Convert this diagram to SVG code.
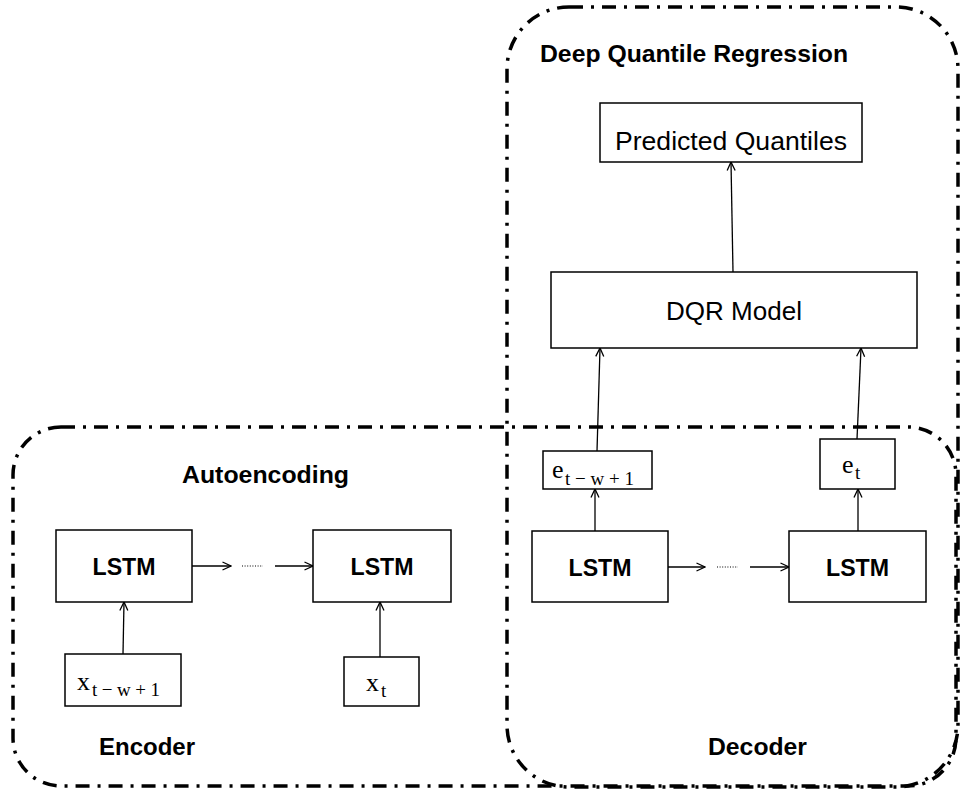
<svg xmlns="http://www.w3.org/2000/svg" width="964" height="793" viewBox="0 0 964 793">
  <defs>
    <marker id="open-arrow" viewBox="0 0 10 10" refX="9.5" refY="5" markerWidth="10" markerHeight="10" markerUnits="userSpaceOnUse" orient="auto">
      <path d="M1,1 L9.5,5 L1,9" fill="none" stroke="#000" stroke-width="1.3"/>
    </marker>
    <style>
      .region { fill: none; stroke: #000; stroke-width: 3.5; stroke-dasharray: 14 8 3 8; }
      .box { fill: #fff; stroke: #000; stroke-width: 1.5; }
      .edge { fill: none; stroke: #000; stroke-width: 1.3; marker-end: url(#open-arrow); }
      .dots { fill: none; stroke: #000; stroke-width: 1.2; stroke-dasharray: 1 1.6; }
      .title { font-family: "Liberation Sans", Arial, sans-serif; font-weight: bold; font-size: 24px; fill: #000; }
      .lstm { font-family: "Liberation Sans", Arial, sans-serif; font-weight: bold; font-size: 24px; fill: #000; text-anchor: middle; }
      .label { font-family: "Liberation Sans", Arial, sans-serif; font-size: 26px; fill: #000; text-anchor: middle; }
      .math { font-family: "Liberation Serif", "Times New Roman", serif; font-size: 26px; fill: #000; }
      .sub { font-family: "Liberation Serif", "Times New Roman", serif; font-size: 19px; fill: #000; }
    </style>
  </defs>

  <!-- Region outlines -->
  <g id="region-dqr">
    <rect class="region" x="507" y="7" width="451" height="780" rx="62" ry="62"/>
    <text class="title" x="540" y="62" textLength="308" lengthAdjust="spacingAndGlyphs">Deep Quantile Regression</text>
  </g>
  <g id="region-autoencoding">
    <rect class="region" x="13" y="427" width="943" height="359" rx="48" ry="48"/>
    <text class="title" x="182" y="483" textLength="167" lengthAdjust="spacingAndGlyphs">Autoencoding</text>
    <text class="title" x="99" y="755" textLength="96" lengthAdjust="spacingAndGlyphs">Encoder</text>
    <text class="title" x="708" y="755" textLength="99" lengthAdjust="spacingAndGlyphs">Decoder</text>
  </g>

  <!-- Connectors -->
  <g id="connectors">
    <!-- encoder -->
    <line class="edge" x1="123" y1="654" x2="124" y2="602"/>
    <line class="edge" x1="380" y1="657" x2="380" y2="602"/>
    <line class="edge" x1="192" y1="566" x2="231" y2="566"/>
    <line class="dots" x1="242" y1="566" x2="263" y2="566"/>
    <line class="edge" x1="275" y1="566" x2="313" y2="566"/>
    <!-- decoder -->
    <line class="edge" x1="668" y1="567" x2="705" y2="567"/>
    <line class="dots" x1="717" y1="567" x2="738" y2="567"/>
    <line class="edge" x1="750" y1="567" x2="789" y2="567"/>
    <line class="edge" x1="595" y1="531" x2="595" y2="489"/>
    <line class="edge" x1="858" y1="531" x2="858" y2="489"/>
    <!-- into the DQR model -->
    <line class="edge" x1="597" y1="451" x2="600" y2="348"/>
    <line class="edge" x1="857" y1="439" x2="861" y2="348"/>
    <line class="edge" x1="733" y1="272" x2="731" y2="162"/>
  </g>

  <!-- Nodes -->
  <g id="predicted-quantiles">
    <rect class="box" x="600" y="103" width="262" height="59"/>
    <text class="label" x="731" y="150" textLength="232" lengthAdjust="spacingAndGlyphs">Predicted Quantiles</text>
  </g>
  <g id="dqr-model">
    <rect class="box" x="551" y="272" width="366" height="76"/>
    <text class="label" x="734" y="320" textLength="136" lengthAdjust="spacingAndGlyphs">DQR Model</text>
  </g>
  <g id="e-t-w1">
    <rect class="box" x="543" y="451" width="109" height="38"/>
    <text class="math" x="552" y="478">e</text>
    <text class="sub" x="565" y="485" textLength="69" lengthAdjust="spacing">t−w+1</text>
  </g>
  <g id="e-t">
    <rect class="box" x="820" y="439" width="75" height="50"/>
    <text class="math" x="842" y="473">e</text>
    <text class="sub" x="855" y="479">t</text>
  </g>
  <g id="decoder-lstm-1">
    <rect class="box" x="532" y="531" width="136" height="71"/>
    <text class="lstm" x="600" y="576" textLength="63" lengthAdjust="spacingAndGlyphs">LSTM</text>
  </g>
  <g id="decoder-lstm-2">
    <rect class="box" x="789" y="531" width="137" height="71"/>
    <text class="lstm" x="857.5" y="576" textLength="63" lengthAdjust="spacingAndGlyphs">LSTM</text>
  </g>
  <g id="encoder-lstm-1">
    <rect class="box" x="56" y="530" width="136" height="72"/>
    <text class="lstm" x="124" y="575" textLength="63" lengthAdjust="spacingAndGlyphs">LSTM</text>
  </g>
  <g id="encoder-lstm-2">
    <rect class="box" x="313" y="530" width="138" height="72"/>
    <text class="lstm" x="382" y="575" textLength="63" lengthAdjust="spacingAndGlyphs">LSTM</text>
  </g>
  <g id="x-t-w1">
    <rect class="box" x="65" y="654" width="116" height="52"/>
    <text class="math" x="77" y="690">x</text>
    <text class="sub" x="92" y="696" textLength="68" lengthAdjust="spacing">t−w+1</text>
  </g>
  <g id="x-t">
    <rect class="box" x="344" y="657" width="75" height="49"/>
    <text class="math" x="366" y="691">x</text>
    <text class="sub" x="381" y="697">t</text>
  </g>
</svg>
